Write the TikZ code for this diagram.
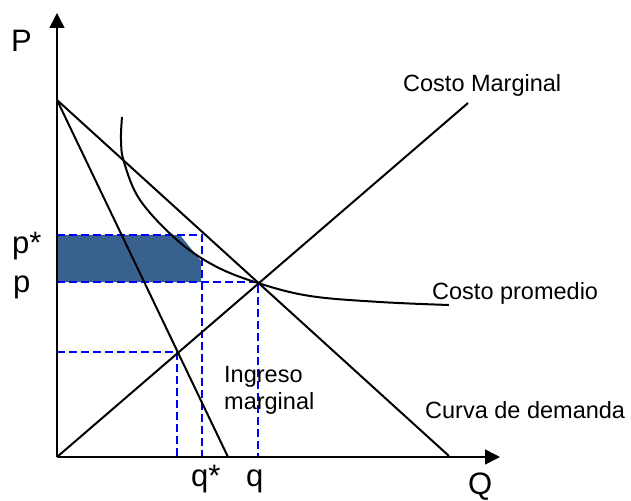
\documentclass[tikz,border=0pt]{standalone}
\usepackage{fontspec}
\setmainfont{Liberation Sans}
\usepackage{tikz}
\usetikzlibrary{arrows.meta}
\definecolor{guideblue}{HTML}{0000FF}
\definecolor{profit}{HTML}{38618F}
\tikzset{
  axis/.style={draw=black,line width=1.6pt,-{Triangle[length=15pt,width=15pt]}},
  curve/.style={draw=black,line width=2pt},
  guide/.style={draw=guideblue,line width=1.6pt,dash pattern=on 8pt off 4pt},
  labelstyle/.style={font=\fontsize{23.5}{26.5}\selectfont,inner sep=0pt,anchor=base west},
  axislabel/.style={font=\fontsize{31}{33}\selectfont,inner sep=0pt,anchor=base west}
}
\begin{document}
\begin{tikzpicture}[x=1pt,y=-1pt]
  \useasboundingbox (0,0) rectangle (631,500);
  % key points
  \coordinate (O) at (57,457);
  \coordinate (ptop) at (57,13);
  \coordinate (qend) at (500,457);
  \coordinate (A) at (57,100);
  \coordinate (dem) at (449,456);
  \coordinate (img) at (228,457);
  \coordinate (cmg) at (468,103);
  % profit area
  \fill[profit] (57,235) -- (180,235) -- (201,261) -- (201,282) -- (57,282) -- cycle;
  % guides
  \draw[guide] (57,235) -- (202,235) -- (202,457);
  \draw[guide] (57,282) -- (258,282) -- (258,457);
  \draw[guide] (57,352) -- (177,352) -- (177,457);
  % axes
  \draw[axis] (O) -- (ptop);
  \draw[axis] (O) -- (qend);
  % curves
  \draw[curve] (A) -- (dem);
  \draw[curve] (A) -- (img);
  \draw[curve] (O) -- (cmg);
  \draw[curve] plot[smooth,tension=0.6] coordinates {(122,117) (121,140) (124,162) (140,200) (177,240) (215,266) (258,283) (310,296) (380,302) (449,305)};
  % labels
  \node[axislabel] (lP) at (11,52) {P};
  \node[axislabel] (lQ) at (468,494) {Q};
  \node[axislabel] (lpstar) at (12,253) {p*};
  \node[axislabel] (lp) at (13,292) {p};
  \node[axislabel] (lqstar) at (191,486) {q*};
  \node[axislabel] (lq) at (246,486) {q};
  \node[labelstyle] (lcmg) at (403,92) {Costo Marginal};
  \node[labelstyle] (lcme) at (432,299) {Costo promedio};
  \node[labelstyle] (ldem) at (425,418) {Curva de demanda};
  \node[labelstyle,align=left] (limg) at (224,409) {Ingreso\\marginal};
\end{tikzpicture}
\end{document}
